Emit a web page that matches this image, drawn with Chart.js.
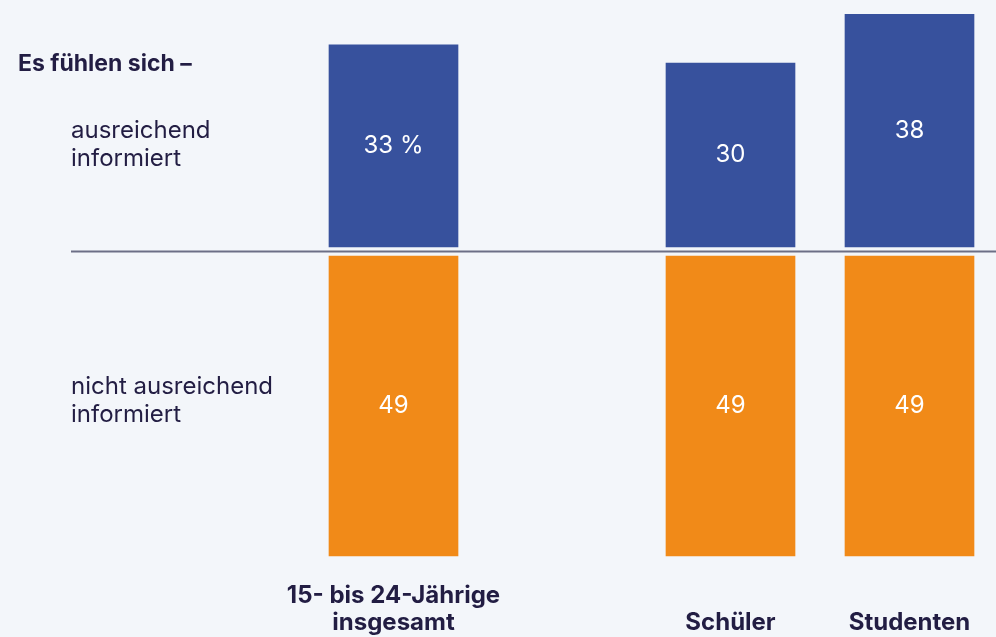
<!DOCTYPE html>
<html lang="de">
<head>
<meta charset="utf-8">
<script src="https://cdn.jsdelivr.net/npm/chart.js@4/dist/chart.umd.min.js"></script>
<style>
  html, body { margin: 0; padding: 0; overflow: hidden; background: #f3f6fa; }
  #wrap { width: 1000px; height: 637px; }
</style>
</head>
<body>
<div id="wrap"><canvas id="chart"></canvas></div>
<script>
const totalLabels = [["15- bis 24-Jährige", "insgesamt"]];
const groupLabels = ["Schüler", "Studenten"];

const informedTotal = [33];
const notInformedTotal = [49];
const informedGroups = [30, 38];
const notInformedGroups = [49, 49];

const heading = "Es fühlen sich –";
const informedText = ["ausreichend", "informiert"];
const notInformedText = ["nicht ausreichend", "informiert"];

const BLUE = "#37519d";
const ORANGE = "#f18a18";
const INK = "#221d43";

Chart.defaults.font.family = "Inter, 'Noto Sans', sans-serif";

// value printed in the middle of each bar, first total bar gets the % sign
const barValues = {
  id: "barValues",
  afterDatasetsDraw(chart) {
    const ctx = chart.ctx;
    ctx.save();
    ctx.fillStyle = "#ffffff";
    ctx.font = "400 24px Inter";
    ctx.textAlign = "center";
    ctx.textBaseline = "middle";
    chart.data.datasets.forEach((ds, di) => {
      chart.getDatasetMeta(di).data.forEach((bar, i) => {
        let txt = String(ds.data[i]);
        if (ds.percent && i === 0) txt += " %";
        ctx.fillText(txt, bar.x, (bar.y + bar.base) / 2);
      });
    });
    ctx.restore();
  }
};

// row captions on the left and the divider between the two halves
const rowCaptions = {
  id: "rowCaptions",
  beforeDatasetsDraw(chart) {
    const ctx = chart.ctx;
    const mid = chart.scales.yTop.bottom;
    ctx.save();
    ctx.strokeStyle = "#6c6f86";
    ctx.lineWidth = 2;
    ctx.beginPath();
    ctx.moveTo(71, mid);
    ctx.lineTo(chart.width, mid);
    ctx.stroke();

    ctx.fillStyle = INK;
    ctx.textAlign = "left";
    ctx.textBaseline = "alphabetic";
    ctx.font = "700 23px Inter";
    ctx.fillText(heading, 18, 71);
    ctx.font = "400 24px Inter";
    informedText.forEach((t, i) => ctx.fillText(t, 71, 138 + i * 28));
    notInformedText.forEach((t, i) => ctx.fillText(t, 71, 394 + i * 28));
    ctx.restore();
  }
};

const xTicks = (pad) => ({
  color: INK,
  padding: pad,
  maxRotation: 0,
  minRotation: 0,
  autoSkip: false,
  font: { size: 24, weight: "700", lineHeight: 1.1 }
});

// fixed axis height, and no side padding for overhanging labels
function fixAxis(s) {
  s.height = 75;
  s.paddingLeft = 0;
  s.paddingRight = 0;
}

// blue and orange sit on the same tick, each on its own half
const series = (data, color, xId, yId, extra) =>
  Object.assign({ data, backgroundColor: color, xAxisID: xId, yAxisID: yId }, extra);

new Chart(document.getElementById("chart"), {
  type: "bar",
  data: {
    datasets: [
      series(informedTotal, BLUE, "xA", "yTop", { percent: true }),
      series(notInformedTotal, ORANGE, "xA", "yBottom"),
      series(informedGroups, BLUE, "xB", "yTop"),
      series(notInformedGroups, ORANGE, "xB", "yBottom")
    ]
  },
  options: {
    responsive: true,
    maintainAspectRatio: false,
    animation: false,
    datasets: {
      bar: { grouped: false, categoryPercentage: 1, barPercentage: 1, maxBarThickness: 129, borderWidth: 0 }
    },
    layout: { padding: { top: 2, left: 146, right: 1, bottom: 0 } },
    plugins: { legend: { display: false }, tooltip: { enabled: false } },
    scales: {
      xA: {
        type: "category", labels: totalLabels, position: "bottom",
        stack: "cols", stackWeight: 495, weight: 0,
        grid: { display: false }, border: { display: false },
        ticks: xTicks(13),
        afterFit: fixAxis
      },
      xB: {
        type: "category", labels: groupLabels, position: "bottom",
        stack: "cols", stackWeight: 358, weight: 1,
        grid: { display: false }, border: { display: false },
        ticks: xTicks(40),
        afterFit: fixAxis
      },
      yTop: {
        type: "linear", position: "left", display: false,
        stack: "rows", stackWeight: 40.75, weight: 2,
        min: -0.75, max: 40
      },
      yBottom: {
        type: "linear", position: "left", display: false, reverse: true,
        stack: "rows", stackWeight: 50.75, weight: 1,
        min: -0.75, max: 50
      }
    }
  },
  plugins: [rowCaptions, barValues]
});
</script>
</body>
</html>
